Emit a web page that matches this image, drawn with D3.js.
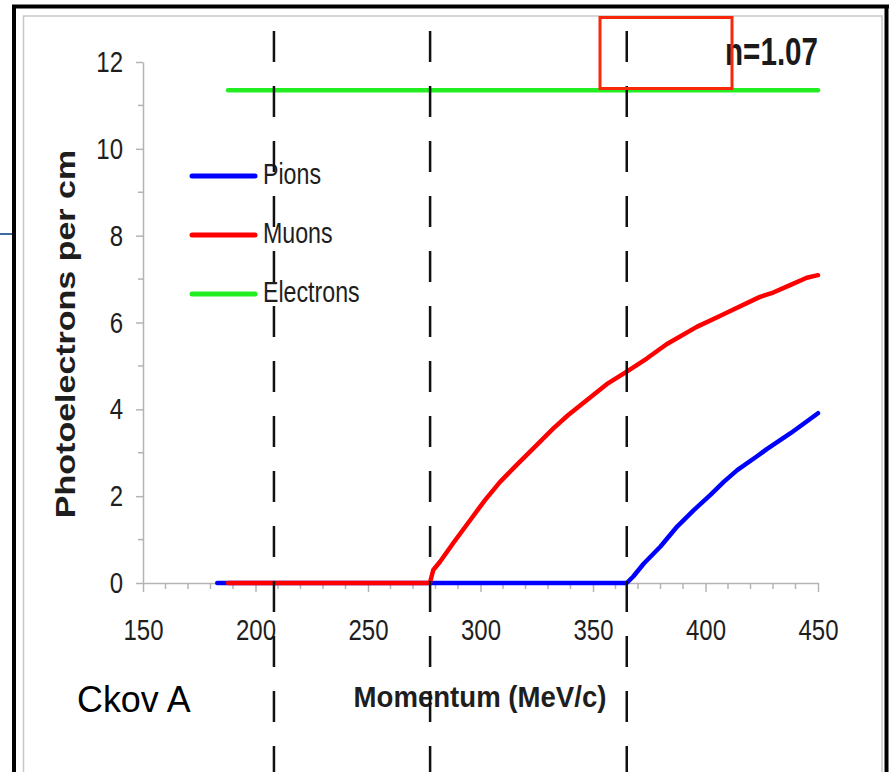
<!DOCTYPE html>
<html>
<head>
<meta charset="utf-8">
<script src="https://cdn.jsdelivr.net/npm/d3@7"></script>
<style>
  html, body { margin: 0; padding: 0; background: #fff; }
  svg { display: block; }
  text { font-family: "Liberation Sans", Arial, sans-serif; }
</style>
</head>
<body>
<svg id="chart" width="891" height="772"></svg>
<script>
// ---- data ----
const xTicks = [150, 200, 250, 300, 350, 400, 450];
const yTicks = [0, 2, 4, 6, 8, 10, 12];
const thresholds = [208.2, 277.6, 365.0];

const pionsX = [183, 365, 367.9, 372.6, 380, 387.4, 394.8, 402.2, 408.1, 414.1, 422.9, 427.4, 437.8, 450];
const pionsY = [0, 0, 0.15, 0.45, 0.84, 1.30, 1.68, 2.03, 2.33, 2.60, 2.92, 3.09, 3.45, 3.91];

const muonsX = [187.8, 277.5, 279.0, 282.0, 287.9, 295.3, 302.0, 308.7, 316.1, 323.5, 332.4, 339.0, 347.2, 356.1, 365, 373.9, 382.7, 396.1, 406.4, 412.4, 424.2, 430.1, 437.6, 445, 450];
const muonsY = [0, 0, 0.30, 0.49, 0.92, 1.44, 1.91, 2.33, 2.72, 3.10, 3.56, 3.87, 4.21, 4.58, 4.87, 5.17, 5.50, 5.90, 6.15, 6.30, 6.59, 6.69, 6.86, 7.03, 7.09];

const electronsX = [187.8, 450];
const electronsY = [11.35, 11.35];

const seriesNames = ["Pions", "Muons", "Electrons"];
const seriesColors = ["#0000ff", "#ff0000", "#22ee22"];

// ---- layout ----
const svg = d3.select("#chart");
const plot = { left: 143, right: 818, top: 62, bottom: 583 };

const x = d3.scaleLinear().domain([150, 450]).range([plot.left, plot.right]);
const y = d3.scaleLinear().domain([0, 12]).range([plot.bottom, plot.top]);

// slide decorations
svg.append("line").attr("x1", 0).attr("x2", 13).attr("y1", 234).attr("y2", 234)
  .attr("stroke", "#3d6aa0").attr("stroke-width", 2);
svg.append("rect").attr("x", 23.5).attr("y", 16).attr("width", 858.5).attr("height", 800)
  .attr("fill", "none").attr("stroke", "#c8c8c8").attr("stroke-width", 1.5);
svg.append("line").attr("x1", 12).attr("x2", 889).attr("y1", 6.5).attr("y2", 6.5)
  .attr("stroke", "#000").attr("stroke-width", 4);
svg.append("line").attr("x1", 14).attr("x2", 14).attr("y1", 5).attr("y2", 772)
  .attr("stroke", "#000").attr("stroke-width", 4);
svg.append("line").attr("x1", 886.5).attr("x2", 886.5).attr("y1", 5).attr("y2", 772)
  .attr("stroke", "#000").attr("stroke-width", 4);

const axisColor = "#b4b4b4";

// minor ticks
const xMinor = d3.range(150, 451, 10).filter(v => !xTicks.includes(v));
const yMinor = d3.range(0, 12.01, 1).filter(v => !yTicks.includes(v));

// X axis
const xAxisG = svg.append("g").attr("transform", `translate(0,${plot.bottom})`)
  .call(d3.axisBottom(x).tickValues(xTicks).tickSize(9).tickSizeOuter(0).tickPadding(27));
xAxisG.select(".domain").attr("stroke", axisColor).attr("stroke-width", 1.5);
xAxisG.selectAll(".tick line").attr("stroke", axisColor).attr("stroke-width", 1.5);
xAxisG.selectAll(".tick text")
  .attr("font-size", 30).attr("fill", "#1e1e1e")
  .attr("font-family", "Liberation Sans, Arial, sans-serif")
  .each(function() {
    const t = d3.select(this);
    const yy = t.attr("y");
    t.attr("y", 0).attr("transform", `translate(0,${yy}) scale(0.8,1)`);
  });
svg.append("g").selectAll("line").data(xMinor).join("line")
  .attr("x1", d => x(d)).attr("x2", d => x(d))
  .attr("y1", plot.bottom).attr("y2", plot.bottom + 6)
  .attr("stroke", axisColor).attr("stroke-width", 1.5);

// Y axis
const yAxisG = svg.append("g").attr("transform", `translate(${plot.left},0)`)
  .call(d3.axisLeft(y).tickValues(yTicks).tickSize(7).tickSizeOuter(0).tickPadding(13));
yAxisG.select(".domain").attr("stroke", axisColor).attr("stroke-width", 1.5);
yAxisG.selectAll(".tick line").attr("stroke", axisColor).attr("stroke-width", 1.5);
yAxisG.selectAll(".tick text")
  .attr("font-size", 30).attr("fill", "#1e1e1e")
  .attr("font-family", "Liberation Sans, Arial, sans-serif")
  .each(function() {
    const t = d3.select(this);
    const xx = t.attr("x");
    t.attr("x", 0).attr("transform", `translate(${xx},0) scale(0.8,1)`);
  });
svg.append("g").selectAll("line").data(yMinor).join("line")
  .attr("x1", plot.left - 5).attr("x2", plot.left)
  .attr("y1", d => y(d)).attr("y2", d => y(d))
  .attr("stroke", axisColor).attr("stroke-width", 1.5);

// series
const series = [
  { name: seriesNames[0], xs: pionsX, ys: pionsY, color: seriesColors[0] },
  { name: seriesNames[1], xs: muonsX, ys: muonsY, color: seriesColors[1] },
  { name: seriesNames[2], xs: electronsX, ys: electronsY, color: seriesColors[2] }
];
const line = d3.line().x(d => x(d[0])).y(d => y(d[1])).curve(d3.curveLinear);
svg.append("g").selectAll("path").data(series).join("path")
  .attr("d", s => line(s.xs.map((v, i) => [v, s.ys[i]])))
  .attr("fill", "none").attr("stroke", s => s.color)
  .attr("stroke-width", 4.5).attr("stroke-linejoin", "round").attr("stroke-linecap", "round");

// legend
const legend = svg.append("g");
const legY = [176, 235, 294];
series.forEach((s, i) => {
  legend.append("line").attr("x1", 192).attr("x2", 255).attr("y1", legY[i]).attr("y2", legY[i])
    .attr("stroke", s.color).attr("stroke-width", 5).attr("stroke-linecap", "round");
  legend.append("text").text(s.name)
    .attr("transform", `translate(263,${legY[i] + 8}) scale(0.8,1)`)
    .attr("font-size", 29).attr("fill", "#1e1e1e");
});

// axis titles
svg.append("text").text("Photoelectrons per cm")
  .attr("transform", "translate(75,334) rotate(-90) scale(1,0.82)")
  .attr("text-anchor", "middle").attr("font-size", 34).attr("font-weight", "bold").attr("fill", "#1e1e1e");
svg.append("text").text("Momentum (MeV/c)")
  .attr("transform", "translate(480,707) scale(0.92,1)")
  .attr("text-anchor", "middle").attr("font-size", 30).attr("font-weight", "bold").attr("fill", "#1e1e1e");

// slide annotations
svg.append("text").text("Ckov A")
  .attr("transform", "translate(77,712) scale(0.97,1)")
  .attr("font-size", 37).attr("fill", "#000");
svg.append("text").text("n=1.07")
  .attr("transform", "translate(725,65) scale(0.78,1)")
  .attr("font-size", 38).attr("font-weight", "bold").attr("fill", "#1a1a1a");

// dashed threshold lines
svg.append("g").selectAll("line").data(thresholds).join("line")
  .attr("x1", d => x(d)).attr("x2", d => x(d))
  .attr("y1", 31).attr("y2", 772)
  .attr("stroke", "#111").attr("stroke-width", 2.5).attr("stroke-dasharray", "31,24");

// red highlight box
svg.append("rect").attr("x", 600).attr("y", 17.5).attr("width", 132).attr("height", 71)
  .attr("fill", "none").attr("stroke", "#f8280a").attr("stroke-width", 3);
</script>
</body>
</html>
